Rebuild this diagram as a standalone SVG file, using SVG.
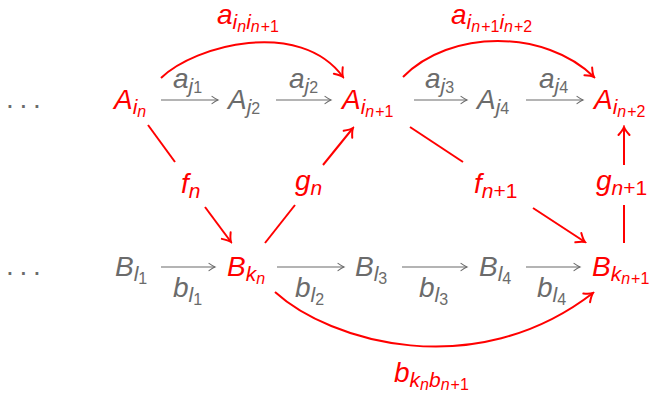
<svg xmlns="http://www.w3.org/2000/svg" width="653" height="393" viewBox="0 0 653 393">
<defs>
<style>
.t{font-family:"Liberation Sans",Arial,sans-serif;font-style:italic;font-size:28px}
.s{font-size:21px}
.ss{font-size:16px}
.u{font-style:normal}
.r{fill:#ff0000}
.g{fill:#6b6b6b}
.rl{fill:none;stroke:#ff0000;stroke-width:2}
.gl{fill:none;stroke:#6b6b6b;stroke-width:1.1}
</style>
<marker id="ra" markerUnits="userSpaceOnUse" viewBox="-10 -8 12 16" markerWidth="12" markerHeight="16" refX="0" refY="0" orient="auto">
<path d="M-8,-5.5 Q-3,-1 0,0 Q-3,1 -8,5.5" fill="none" stroke="#ff0000" stroke-width="2" stroke-linecap="round"/>
</marker>
<marker id="ga" markerUnits="userSpaceOnUse" viewBox="-8 -5 10 10" markerWidth="10" markerHeight="10" refX="0" refY="0" orient="auto">
<path d="M-6,-3.6 Q-2,-0.8 0,0 Q-2,0.8 -6,3.6" fill="none" stroke="#6b6b6b" stroke-width="1.1" stroke-linecap="round"/>
</marker>
</defs>

<g id="connectors">
<path class="gl" marker-end="url(#ga)" d="M161,100 H218"/>
<path class="gl" marker-end="url(#ga)" d="M276,100 H331"/>
<path class="gl" marker-end="url(#ga)" d="M414,100 H467"/>
<path class="gl" marker-end="url(#ga)" d="M526,100 H583"/>
<path class="gl" marker-end="url(#ga)" d="M161,267 H215"/>
<path class="gl" marker-end="url(#ga)" d="M277,267 H344"/>
<path class="gl" marker-end="url(#ga)" d="M402,267 H467"/>
<path class="gl" marker-end="url(#ga)" d="M526,267 H580"/>
<path class="rl" marker-end="url(#ra)" d="M161,78 C195,45 300,18 343,77"/>
<path class="rl" marker-end="url(#ra)" d="M403,77 C450,29 545,29 594,77"/>
<path class="rl" marker-end="url(#ra)" d="M275,292 C330,342 475,384 593,293"/>
<path class="rl" d="M148,125 L175,162"/>
<path class="rl" marker-end="url(#ra)" d="M205,207 L231,242"/>
<path class="rl" d="M265,243 L295,205"/>
<path class="rl" marker-end="url(#ra)" d="M323,165 L353,128"/>
<path class="rl" d="M410,127 L463,162"/>
<path class="rl" marker-end="url(#ra)" d="M533,208 L585,242"/>
<path class="rl" d="M624,243 L624,205"/>
<path class="rl" marker-end="url(#ra)" d="M624,165 L624,127"/>
<text class="t g" x="173" y="88">a<tspan class="s" dy="5">j</tspan><tspan class="ss u">1</tspan></text>
<text class="t g" x="289" y="88">a<tspan class="s" dy="5">j</tspan><tspan class="ss u">2</tspan></text>
<text class="t g" x="425" y="88">a<tspan class="s" dy="5">j</tspan><tspan class="ss u">3</tspan></text>
<text class="t g" x="539" y="88">a<tspan class="s" dy="5">j</tspan><tspan class="ss u">4</tspan></text>
<text class="t g" x="173" y="297">b<tspan class="s" dy="5">l</tspan><tspan class="ss u" dy="3">1</tspan></text>
<text class="t g" x="295" y="297">b<tspan class="s" dy="5">l</tspan><tspan class="ss u" dy="3">2</tspan></text>
<text class="t g" x="419" y="297">b<tspan class="s" dy="5">l</tspan><tspan class="ss u" dy="3">3</tspan></text>
<text class="t g" x="537" y="297">b<tspan class="s" dy="5">l</tspan><tspan class="ss u" dy="3">4</tspan></text>
<text class="t r" x="217" y="24">a<tspan class="s" dy="5">i</tspan><tspan class="ss" dy="3">n</tspan><tspan class="s" dy="-3">i</tspan><tspan class="ss" dy="3">n</tspan><tspan class="ss u" dx="1">+1</tspan></text>
<text class="t r" x="451" y="24">a<tspan class="s" dy="5">i</tspan><tspan class="ss" dy="3">n</tspan><tspan class="ss u" dx="1">+1</tspan><tspan class="s" dy="-3">i</tspan><tspan class="ss" dy="3">n</tspan><tspan class="ss u" dx="1">+2</tspan></text>
<text class="t r" x="394" y="382">b<tspan class="s" dy="5">k</tspan><tspan class="ss" dy="3">n</tspan><tspan class="s" dy="-3">b</tspan><tspan class="ss" dy="3">n</tspan><tspan class="ss u" dx="1">+1</tspan></text>
<text class="t r" x="181" y="193">f<tspan class="s" dy="5">n</tspan></text>
<text class="t r" x="295" y="190">g<tspan class="s" dy="5">n</tspan></text>
<text class="t r" x="474" y="193">f<tspan class="s" dy="5">n</tspan><tspan class="s u">+1</tspan></text>
<text class="t r" x="596" y="190">g<tspan class="s" dy="5">n</tspan><tspan class="s u">+1</tspan></text>
</g>

<g id="dots-top"><text class="t g u" x="6 19.5 33" y="108">...</text></g>
<g id="dots-bottom"><text class="t g u" x="6 19.5 33" y="275">...</text></g>
<g id="A_in"><text class="t r" x="114" y="109">A<tspan class="s" dy="5">i</tspan><tspan class="ss" dy="3">n</tspan></text></g>
<g id="A_j2"><text class="t g" x="228" y="109">A<tspan class="s" dy="5">j</tspan><tspan class="ss u">2</tspan></text></g>
<g id="A_in1"><text class="t r" x="342" y="109">A<tspan class="s" dy="5">i</tspan><tspan class="ss" dy="3">n</tspan><tspan class="ss u" dx="1">+1</tspan></text></g>
<g id="A_j4"><text class="t g" x="477" y="109">A<tspan class="s" dy="5">j</tspan><tspan class="ss u">4</tspan></text></g>
<g id="A_in2"><text class="t r" x="594" y="109">A<tspan class="s" dy="5">i</tspan><tspan class="ss" dy="3">n</tspan><tspan class="ss u" dx="1">+2</tspan></text></g>
<g id="B_l1"><text class="t g" x="115" y="276">B<tspan class="s" dy="5">l</tspan><tspan class="ss u" dy="3">1</tspan></text></g>
<g id="B_kn"><text class="t r" x="227" y="276">B<tspan class="s" dy="5">k</tspan><tspan class="ss" dy="3">n</tspan></text></g>
<g id="B_l3"><text class="t g" x="355" y="276">B<tspan class="s" dy="5">l</tspan><tspan class="ss u" dy="3">3</tspan></text></g>
<g id="B_l4"><text class="t g" x="479" y="276">B<tspan class="s" dy="5">l</tspan><tspan class="ss u" dy="3">4</tspan></text></g>
<g id="B_kn1"><text class="t r" x="592" y="276">B<tspan class="s" dy="5">k</tspan><tspan class="ss" dy="3">n</tspan><tspan class="ss u" dx="1">+1</tspan></text></g>
</svg>
